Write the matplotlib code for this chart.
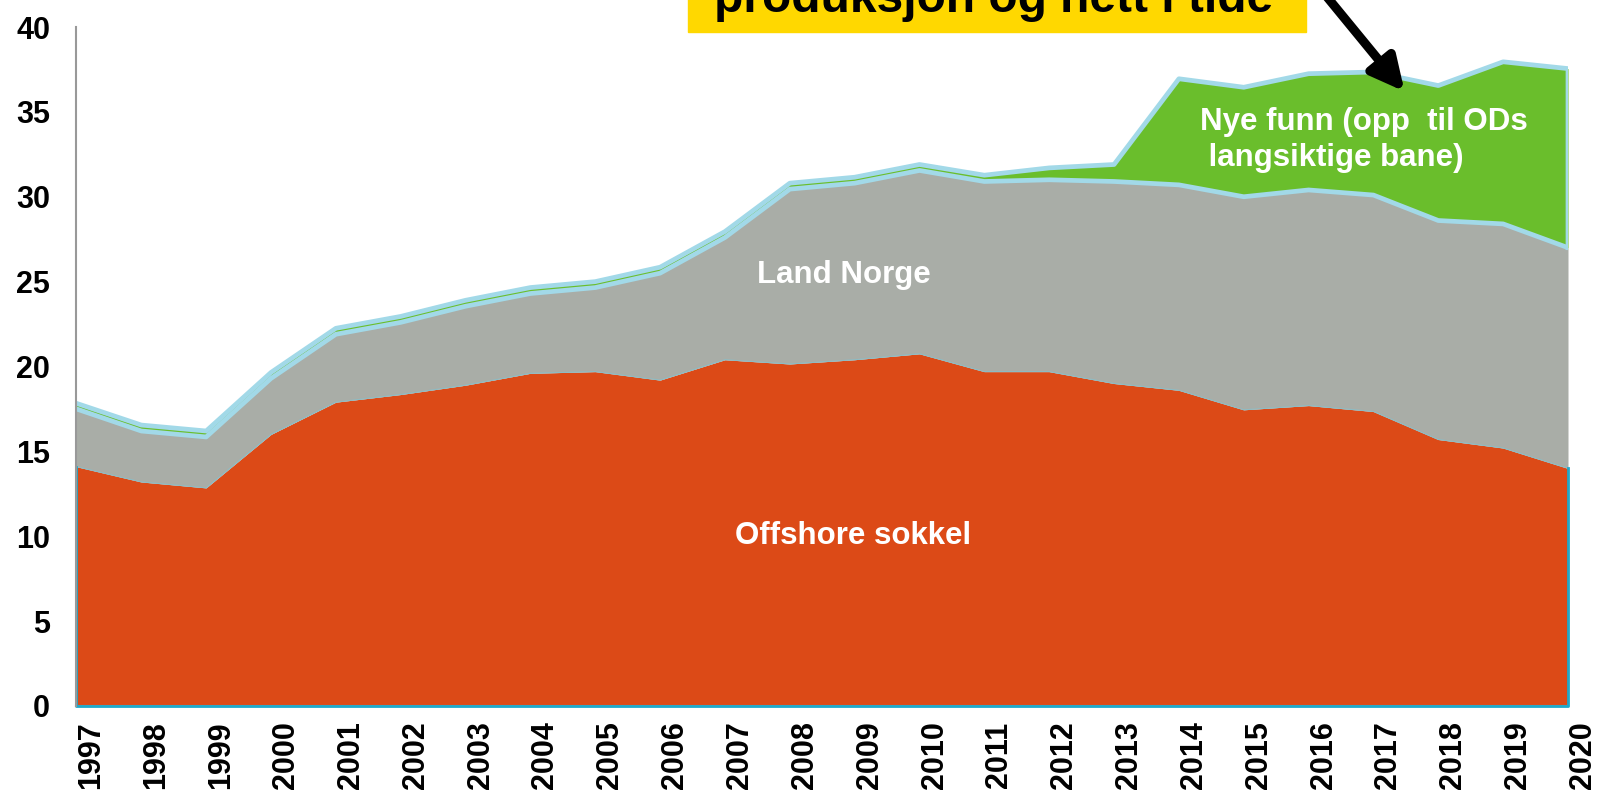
import matplotlib
matplotlib.use("Agg")
import matplotlib.pyplot as plt
from matplotlib.patches import Rectangle
from matplotlib.transforms import ScaledTranslation

plt.rcParams['font.family'] = ['Liberation Sans', 'DejaVu Sans']
plt.rcParams['font.weight'] = 'bold'

# data (stacked)
years = list(range(1997, 2021))
offshore = [14.1, 13.2, 12.85, 16.0, 17.9, 18.35, 18.9, 19.6, 19.7, 19.2, 20.4, 20.15,
            20.4, 20.75, 19.7, 19.7, 19.0, 18.6, 17.45, 17.7, 17.35, 15.7, 15.2, 14.0]
land = [3.4, 3.0, 3.0, 3.3, 4.0, 4.25, 4.65, 4.7, 4.95, 6.3, 7.2, 10.3,
        10.4, 10.8, 11.2, 11.3, 11.9, 12.1, 12.55, 12.7, 12.75, 12.9, 13.2, 13.0]
nye_funn = [0.33, 0.35, 0.35, 0.35, 0.35, 0.35, 0.35, 0.35, 0.35, 0.35, 0.35, 0.35,
            0.35, 0.35, 0.37, 0.7, 1.0, 6.25, 6.45, 6.85, 7.25, 7.95, 9.55, 10.55]

c_off = '#DC4A17'
c_land = '#A9ADA7'
c_green = '#6ABE2C'
c_lblue = '#A2D9E8'
c_teal = '#1FA8C9'

land_top = [o + l for o, l in zip(offshore, land)]
green_top = [t + g for t, g in zip(land_top, nye_funn)]

fig = plt.figure(figsize=(16, 7.92), dpi=100)
ax = fig.add_axes([0.0478, 0.1086, 0.98 - 0.0478, 0.9659 - 0.1086])

ax.fill_between(years, 0, offshore, color=c_off, lw=0, zorder=1)
ax.fill_between(years, offshore, land_top, color=c_land, lw=0, zorder=1)
ax.plot(years, offshore, color='#8DBCC4', lw=0.8, zorder=2)
ax.fill_between(years, land_top, green_top, color=c_green, lw=0, zorder=2)
ax.plot(years, land_top, color=c_lblue, lw=3.4, zorder=3)
ax.plot(years + [years[-1]], green_top + [land_top[-1]], color=c_lblue, lw=3.4, zorder=3)
# offshore outline
ax.plot([years[0], years[0], years[-1], years[-1]], [offshore[0], 0, 0, offshore[-1]],
        color=c_teal, lw=2, zorder=4, clip_on=False)

ax.set_xlim(1997, 2020)
ax.set_ylim(0, 40)
ax.set_yticks(range(0, 41, 5))
ax.set_xticks(years)
ax.set_xticklabels([str(y) for y in years], rotation=90, fontsize=22, fontweight='bold')
ax.tick_params(axis='y', length=0, pad=19, labelsize=22)
ax.tick_params(axis='x', length=0, pad=11)
for lab in ax.get_xticklabels():
    lab.set_transform(lab.get_transform() + ScaledTranslation(0.15, 0, fig.dpi_scale_trans))
for s in ['top', 'right']:
    ax.spines[s].set_visible(False)
for s in ['left', 'bottom']:
    ax.spines[s].set_color('#999999')
    ax.spines[s].set_linewidth(1.5)
ax.spines['left'].set_zorder(5)

ax.text(2008.97, 10.0, 'Offshore sokkel', color='white', fontsize=22.5,
        fontweight='bold', ha='center', va='center', zorder=6)
ax.text(2008.84, 25.4, 'Land Norge', color='white', fontsize=22.5,
        fontweight='bold', ha='center', va='center', zorder=6)
ax.text(2014.33, 33.36, 'Nye funn (opp  til ODs\n langsiktige bane)', color='white',
        fontsize=22.5, fontweight='bold', ha='left', va='center', linespacing=1.27, zorder=6)

# yellow box cut off at the top
fig.patches.append(Rectangle((688 / 1600, 1 - 32 / 792), (1306 - 688) / 1600, 0.2,
                             transform=fig.transFigure, color='#FFD800', zorder=0))
fig.text((688 + 1300) / 2 / 1600, 1 - 12 / 792, 'produksjon og nett i tide', fontsize=34.5,
         fontweight='bold', ha='center', va='baseline', color='black')

ax.annotate('', xy=(2017.48, 36.2), xycoords='data',
            xytext=(1300, 828), textcoords='figure pixels',
            arrowprops=dict(arrowstyle='-|>,head_length=1.0,head_width=0.5',
                            color='black', lw=6.5, mutation_scale=20,
                            shrinkA=0, shrinkB=0), zorder=7)

fig.savefig('out.png', dpi=100)
